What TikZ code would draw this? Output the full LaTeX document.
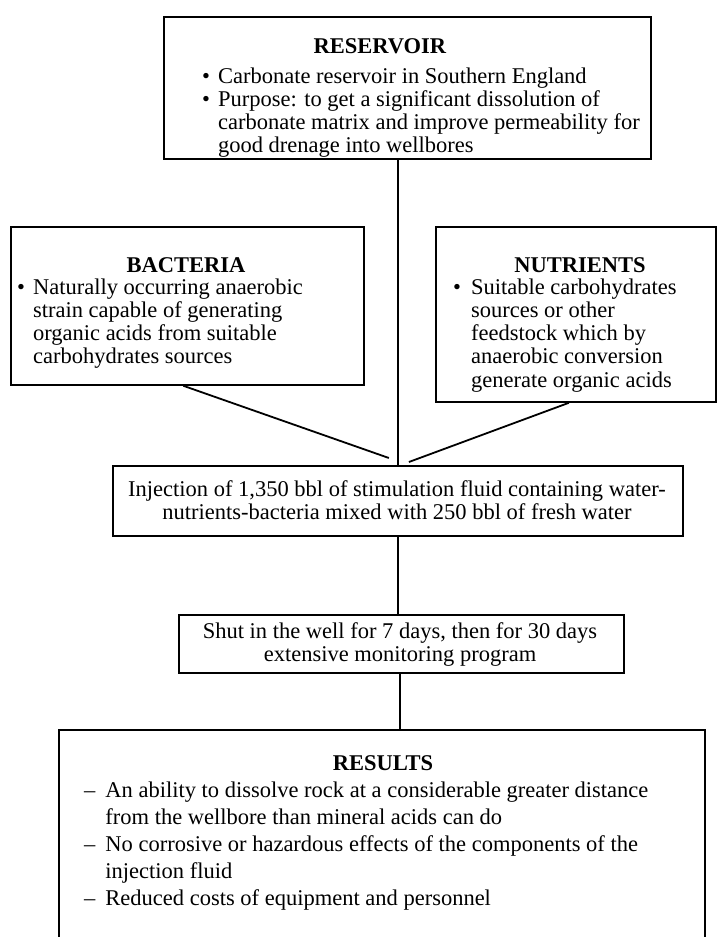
\documentclass[tikz,border=0pt]{standalone}
\usepackage{fontspec}
\setmainfont{Liberation Serif}
\usetikzlibrary{calc}
\newcommand{\bul}{\textbullet}
\begin{document}
\begin{tikzpicture}[x=1pt,y=-1pt,
  frame/.style={draw, line width=1.8pt, inner sep=0pt, anchor=north west},
  txt/.style={inner sep=0pt, font=\fontsize{22.5}{23.3}\selectfont},
  rtxt/.style={inner sep=0pt, font=\fontsize{22.5}{27}\selectfont},
  link/.style={line width=1.8pt}]
\useasboundingbox (0,0) rectangle (716,937);

% boxes
\node[frame, minimum width=487pt, minimum height=142pt] (res) at (163,16) {};
\node[frame, minimum width=353pt, minimum height=158pt] (bac) at (10,226) {};
\node[frame, minimum width=280pt, minimum height=175pt] (nut) at (435,226) {};
\node[frame, minimum width=570pt, minimum height=70pt] (inj) at (112,465) {};
\node[frame, minimum width=445pt, minimum height=58pt] (shut) at (178,614) {};
% results box runs off the bottom edge
\coordinate (rtl) at (59,730);
\coordinate (rtr) at (705,730);
\coordinate (rbl) at (59,940);
\coordinate (rbr) at (705,940);
\draw[link] (rbl) -- (rtl) -- (rtr) -- (rbr);

% reservoir
\node[txt, anchor=base] (resH) at (380,53) {\textbf{RESERVOIR}};
\node[txt, anchor=base west] (resT) at (202,83) {%
  \begin{tabular}[t]{@{}l@{\hspace{8pt}}l@{}}
  \bul & Carbonate reservoir in Southern England\\
  \bul & Purpose: to get a significant dissolution of\\
       & carbonate matrix and improve permeability for\\
       & good drenage into wellbores
  \end{tabular}};

% bacteria
\node[txt, anchor=base] (bacH) at (186,272) {\textbf{BACTERIA}};
\node[txt, anchor=base west] (bacT) at (17,294) {%
  \begin{tabular}[t]{@{}l@{\hspace{8pt}}l@{}}
  \bul & Naturally occurring anaerobic\\
       & strain capable of generating\\
       & organic acids from suitable\\
       & carbohydrates sources
  \end{tabular}};

% nutrients
\node[txt, anchor=base] (nutH) at (580,272) {\textbf{NUTRIENTS}};
\node[txt, anchor=base west] (nutT) at (453,294) {%
  \begin{tabular}[t]{@{}l@{\hspace{10pt}}l@{}}
  \bul & Suitable carbohydrates\\
       & sources or other\\
       & feedstock which by\\
       & anaerobic conversion\\
       & generate organic acids
  \end{tabular}};

% injection and shut-in
\node[txt, anchor=base] (injT) at (397,496) {%
  \begin{tabular}[t]{@{}c@{}}
  Injection of 1,350 bbl of stimulation fluid containing water-\\
  nutrients-bacteria mixed with 250 bbl of fresh water
  \end{tabular}};
\node[txt, anchor=base] (shutT) at (400,638) {%
  \begin{tabular}[t]{@{}c@{}}
  Shut in the well for 7 days, then for 30 days\\
  extensive monitoring program
  \end{tabular}};

% results
\node[rtxt, anchor=base] (resultsH) at (383,770) {\textbf{RESULTS}};
\node[rtxt, anchor=base west] (resultsT) at (84,797) {%
  \begin{tabular}[t]{@{}l@{\hspace{10pt}}l@{}}
  -- & An ability to dissolve rock at a considerable greater distance\\
     & from the wellbore than mineral acids can do\\
  -- & No corrosive or hazardous effects of the components of the\\
     & injection fluid\\
  -- & Reduced costs of equipment and personnel
  \end{tabular}};

% connectors
\draw[link] (inj.north -| 398,0) -- (res.south -| 398,0);
\draw[link] ($(bac.south)+(-4,0)$) -- ($(inj.north)+(-9,-7)$);
\draw[link] ($(nut.south)+(-7,0)$) -- ($(inj.north)+(11,-3)$);
\draw[link] (shut.north -| 398,0) -- (inj.south -| 398,0);
\draw[link] (rtl -| 400,0) -- (shut.south -| 400,0);
\end{tikzpicture}
\end{document}
